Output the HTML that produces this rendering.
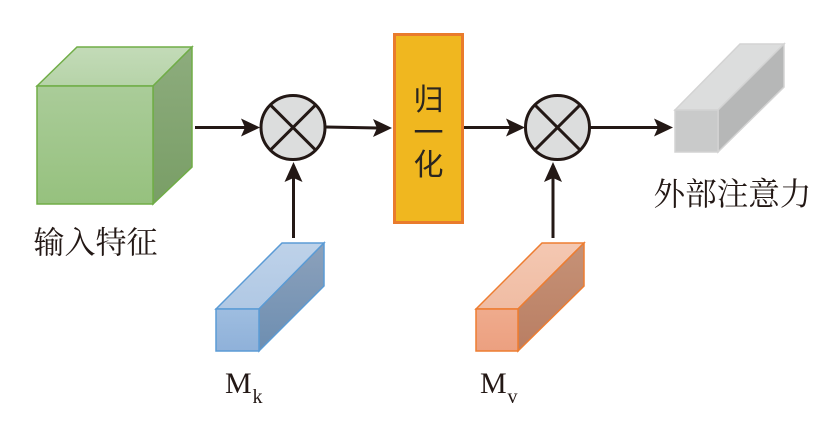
<!DOCTYPE html>
<html><head><meta charset="utf-8">
<style>
html,body{margin:0;padding:0;background:#fff;}
svg{display:block;}
</style></head>
<body>
<svg width="833" height="423" viewBox="0 0 833 423" xmlns="http://www.w3.org/2000/svg">
<defs>
<linearGradient id="gF" x1="0" y1="0" x2="0" y2="1"><stop offset="0" stop-color="#aacc99"/><stop offset="1" stop-color="#96c17e"/></linearGradient>
<linearGradient id="gT" x1="0" y1="0" x2="0" y2="1"><stop offset="0" stop-color="#c3dbb8"/><stop offset="1" stop-color="#b6d3a8"/></linearGradient>
<linearGradient id="gR" x1="0" y1="0" x2="0" y2="1"><stop offset="0" stop-color="#8dac7d"/><stop offset="1" stop-color="#799e66"/></linearGradient>
<linearGradient id="bF" x1="0" y1="0" x2="0" y2="1"><stop offset="0" stop-color="#9ebde0"/><stop offset="1" stop-color="#8fb1d9"/></linearGradient>
<linearGradient id="bT" x1="0" y1="0" x2="0" y2="1"><stop offset="0" stop-color="#bed2e9"/><stop offset="1" stop-color="#b0c8e4"/></linearGradient>
<linearGradient id="bR" x1="0" y1="0" x2="0" y2="1"><stop offset="0" stop-color="#8ca1bb"/><stop offset="1" stop-color="#6d8eb1"/></linearGradient>
<linearGradient id="oF" x1="0" y1="0" x2="0" y2="1"><stop offset="0" stop-color="#efab8d"/><stop offset="1" stop-color="#eca080"/></linearGradient>
<linearGradient id="oT" x1="0" y1="0" x2="0" y2="1"><stop offset="0" stop-color="#f4c8b2"/><stop offset="1" stop-color="#f0bca3"/></linearGradient>
<linearGradient id="oR" x1="0" y1="0" x2="0" y2="1"><stop offset="0" stop-color="#c69277"/><stop offset="1" stop-color="#b97e63"/></linearGradient>
</defs>

<!-- green cube -->
<polygon points="37,86 77,47 192,47 153,86" fill="url(#gT)" stroke="#70ad47" stroke-width="1.5"/>
<polygon points="153,86 192,47 192,167 153,204" fill="url(#gR)" stroke="#70ad47" stroke-width="1.5"/>
<rect x="37" y="86" width="116" height="118" fill="url(#gF)" stroke="#70ad47" stroke-width="1.5"/>

<!-- blue block -->
<polygon points="216,309 282,243 324,243 259,309" fill="url(#bT)" stroke="#5b9bd5" stroke-width="1.5"/>
<polygon points="259,309 324,243 324,286 259,351" fill="url(#bR)" stroke="#5b9bd5" stroke-width="1.5"/>
<rect x="216" y="309" width="43" height="42" fill="url(#bF)" stroke="#5b9bd5" stroke-width="1.5"/>

<!-- orange block -->
<polygon points="476,309 542,243 584,243 518,309" fill="url(#oT)" stroke="#ed7d31" stroke-width="1.5"/>
<polygon points="518,309 584,243 584,286 518,351" fill="url(#oR)" stroke="#ed7d31" stroke-width="1.5"/>
<rect x="476" y="309" width="42" height="42" fill="url(#oF)" stroke="#ed7d31" stroke-width="1.5"/>

<!-- gray block -->
<polygon points="675,110 740,44 784,44 718,110" fill="#dcdddd" stroke="#d3d3d3" stroke-width="1.5"/>
<polygon points="718,110 784,44 784,87 718,152" fill="#b6b7b7" stroke="#d3d3d3" stroke-width="1.5"/>
<rect x="675" y="110" width="43" height="42" fill="#c9caca" stroke="#d3d3d3" stroke-width="1.5"/>

<!-- normalization box -->
<rect x="394.5" y="34.5" width="68" height="188" fill="#f0b71f" stroke="#e97b2c" stroke-width="3"/>

<!-- connectors -->
<g stroke="#231815" stroke-width="3" fill="none">
<line x1="195" y1="127.5" x2="246" y2="127.5"/>
<line x1="326" y1="127" x2="378" y2="128"/>
<line x1="464" y1="127.5" x2="511" y2="127.5"/>
<line x1="590" y1="127.5" x2="659" y2="127.5"/>
<line x1="293.5" y1="238" x2="293.5" y2="176"/>
<line x1="553" y1="238" x2="553" y2="176"/>
</g>
<g fill="#231815">
<path d="M260,127.5 L241,118.5 L245,127.5 L241,136.5 Z"/>
<path d="M392,128 L373,119 L377,128 L373,137 Z"/>
<path d="M525,127.5 L506,118.5 L510,127.5 L506,136.5 Z"/>
<path d="M673,127.5 L654,118.5 L658,127.5 L654,136.5 Z"/>
<path d="M293.5,162 L284.5,182 L293.5,178 L302.5,182 Z"/>
<path d="M553,162 L544,182 L553,178 L562,182 Z"/>
</g>

<!-- multiply circles -->
<g stroke="#231815" stroke-width="3">
<circle cx="293" cy="127.5" r="32" fill="#dcdddd"/>
<line x1="270.4" y1="104.9" x2="315.6" y2="150.1"/>
<line x1="315.6" y1="104.9" x2="270.4" y2="150.1"/>
<circle cx="557.5" cy="127.5" r="32" fill="#dcdddd"/>
<line x1="534.9" y1="104.9" x2="580.1" y2="150.1"/>
<line x1="580.1" y1="104.9" x2="534.9" y2="150.1"/>
</g>

<!-- labels -->
<g font-family="'Noto Serif CJK SC','Noto Sans CJK SC',serif" fill="#231815" dominant-baseline="central">
<text x="95.5" y="240" font-size="31" text-anchor="middle" textLength="124" lengthAdjust="spacingAndGlyphs">输入特征</text>
<text x="732.5" y="192" font-size="32" text-anchor="middle" textLength="158" lengthAdjust="spacingAndGlyphs">外部注意力</text>
</g>
<g font-family="'Noto Sans CJK SC','WenQuanYi Zen Hei',sans-serif" fill="#2a2520" font-size="30" text-anchor="middle" dominant-baseline="central">
<text x="428.5" y="97">归</text>
<text x="428.5" y="130">一</text>
<text x="428.5" y="162">化</text>
</g>
<g font-family="'Liberation Serif',serif" fill="#231815">
<text x="225" y="393" font-size="30">M</text>
<text x="252.5" y="403" font-size="20">k</text>
<text x="480" y="393" font-size="30">M</text>
<text x="507.5" y="403" font-size="20">v</text>
</g>
</svg>
</body></html>
